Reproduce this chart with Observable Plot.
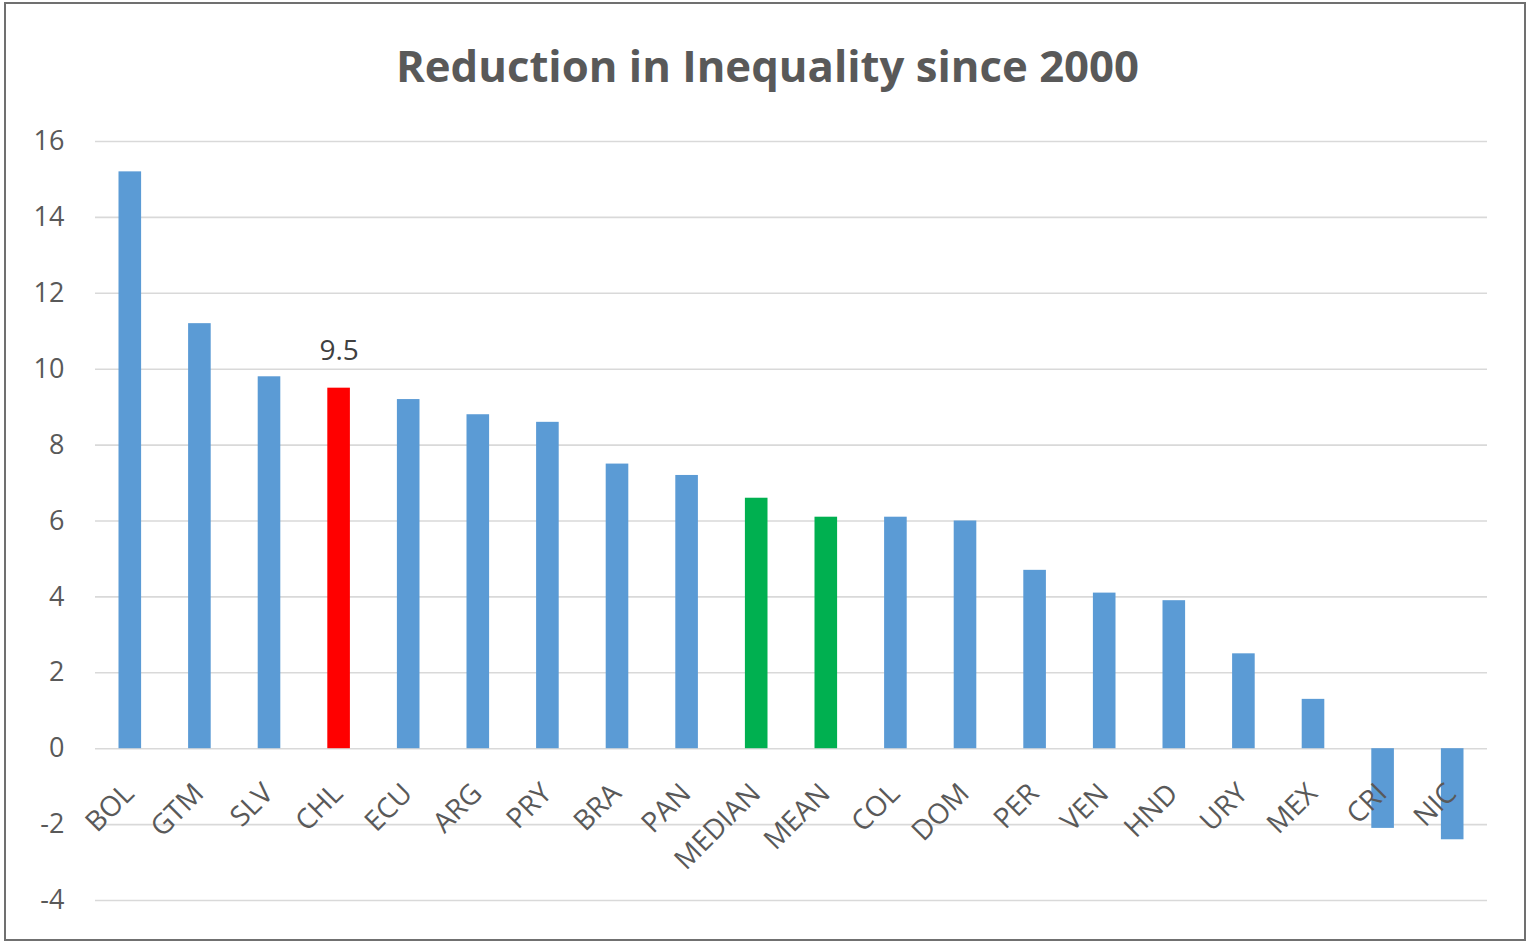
<!DOCTYPE html>
<html>
<head>
<meta charset="utf-8">
<script src="https://cdn.jsdelivr.net/npm/d3@7"></script>
<script src="https://cdn.jsdelivr.net/npm/@observablehq/plot@0.6"></script>
<style>
  html, body { margin: 0; padding: 0; background: #fff; }
  #frame {
    position: absolute; left: 4px; top: 2px;
    width: 1518px; height: 935px;
    border: 2px solid #707070; background: #fff;
    font-family: "Open Sans", sans-serif;
  }
  #title {
    height: 108px; box-sizing: border-box; padding-top: 35px;
    text-align: center; font-size: 43.7px; line-height: 52px;
    font-weight: 700; color: #595959; padding-left: 5px;
  }
  #chart svg { display: block; }
</style>
</head>
<body>
<div id="frame">
  <div id="title">Reduction in Inequality since 2000</div>
  <div id="chart"></div>
</div>
<script>
// Countries (plus the regional median and mean), sorted by reduction
const categories = ["BOL", "GTM", "SLV", "CHL", "ECU", "ARG", "PRY", "BRA", "PAN", "MEDIAN",
                    "MEAN", "COL", "DOM", "PER", "VEN", "HND", "URY", "MEX", "CRI", "NIC"];
const values = [15.2, 11.2, 9.8, 9.5, 9.2, 8.8, 8.6, 7.5, 7.2, 6.6,
                6.1, 6.1, 6.0, 4.7, 4.1, 3.9, 2.5, 1.3, -2.1, -2.4];
const yTicks = [-4, -2, 0, 2, 4, 6, 8, 10, 12, 14, 16];
const highlighted = ["CHL"];
const summaries = ["MEDIAN", "MEAN"];
const labelled = ["CHL"];

const rows = categories.map((c, i) => ({category: c, value: values[i]}));

const fillFor = d =>
  highlighted.includes(d.category) ? "#FF0000" :
  summaries.includes(d.category) ? "#00B050" : "#5B9BD5";

const chart = Plot.plot({
  width: 1518,
  height: 827,
  marginTop: 29,
  marginBottom: 39,
  marginLeft: 89,
  marginRight: 37,
  style: {fontFamily: "Open Sans, sans-serif", fontSize: "27px", color: "#595959", background: "#fff"},
  x: {domain: categories, padding: 0, round: false, axis: null},
  y: {domain: [-4, 16], axis: null},
  marks: [
    Plot.gridY(yTicks, {stroke: "#d9d9d9", strokeOpacity: 1, strokeWidth: 1.6}),
    Plot.axisY(yTicks, {tickSize: 0, tickPadding: 31, fontSize: 27, fill: "#595959", label: null,
                        tickFormat: d => d < 0 ? "-" + Math.abs(d) : String(d)}),
    Plot.barY(rows, {x: "category", y: "value", fill: fillFor, insetLeft: 23.5, insetRight: 23.5}),
    Plot.text(rows.filter(d => labelled.includes(d.category)), {
      x: "category", y: "value", text: d => d.value.toFixed(1),
      dy: -37, fontSize: 28, fill: "#404040"
    }),
    Plot.text(rows, {
      x: "category", y: () => 0, text: "category",
      rotate: -45, textAnchor: "end", dx: -1, dy: 40, fontSize: 28, fill: "#595959"
    })
  ]
});
document.getElementById("chart").appendChild(chart);
</script>
</body>
</html>
